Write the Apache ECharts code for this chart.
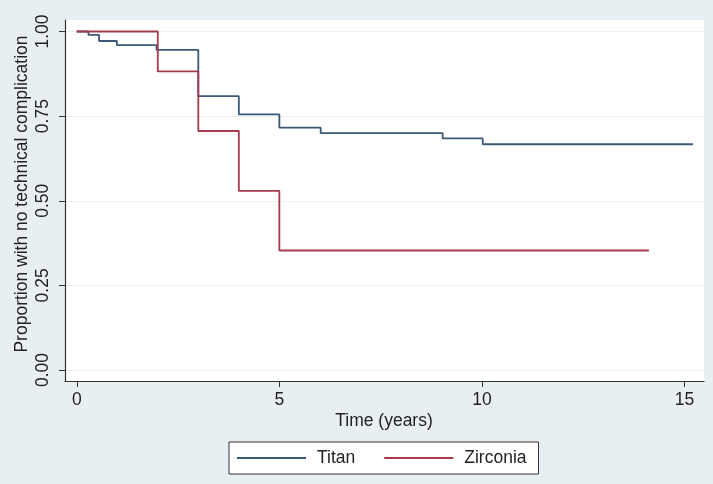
<!DOCTYPE html>
<html>
<head>
<meta charset="utf-8">
<script src="https://cdn.jsdelivr.net/npm/echarts@6/dist/echarts.min.js"></script>
<style>
html,body{margin:0;padding:0;background:#e8eff3;}
#c{width:713px;height:484px;}
</style>
</head>
<body>
<div id="c"></div>
<script>
// Data
const titanTimes = [0, 0.29, 0.55, 0.99, 1.97, 3.0, 4.0, 5.0, 6.02, 9.03, 10.02, 15.21];
const titanValues = [1.0, 0.99, 0.972, 0.96, 0.946, 0.809, 0.755, 0.716, 0.700, 0.684, 0.667, 0.667];
const zircTimes = [0, 2.0, 3.0, 4.0, 5.0, 14.12];
const zircValues = [1.0, 0.882, 0.706, 0.529, 0.353, 0.353];
const xTicks = [0, 5, 10, 15];
const yTicks = [0, 0.25, 0.5, 0.75, 1.0];
const seriesNames = ['Titan', 'Zirconia'];
const xTitle = 'Time (years)';
const yTitle = 'Proportion with no technical complication';

const FONT = '"Liberation Sans", Arial, sans-serif';
const chart = echarts.init(document.getElementById('c'));

const zip = (a, b) => a.map((t, i) => [t, b[i]]);

chart.setOption({
  backgroundColor: '#e8eff3',
  animation: false,
  textStyle: { fontFamily: FONT },
  grid: { left: 65, right: 9, top: 20, bottom: 103, show: true, backgroundColor: '#ffffff', borderWidth: 0 },
  xAxis: {
    type: 'value', min: -0.29, max: 15.48,
    axisLine: { show: true, onZero: false, lineStyle: { color: '#333', width: 1.2 } },
    axisTick: { show: true, length: 6, customValues: xTicks, lineStyle: { color: '#333' } },
    axisLabel: { customValues: xTicks, fontSize: 17.5, color: '#222', margin: 10, fontFamily: FONT },
    splitLine: { show: false }
  },
  yAxis: {
    type: 'value', min: -0.0325, max: 1.034,
    axisLine: { show: true, onZero: false, lineStyle: { color: '#333', width: 1.2 } },
    axisTick: { show: true, length: 6, customValues: yTicks, lineStyle: { color: '#333' } },
    axisLabel: { customValues: yTicks, fontSize: 17.5, color: '#222', margin: 13, rotate: 90, fontFamily: FONT,
      formatter: v => v.toFixed(2) },
    splitLine: { show: false }
  },
  legend: {
    left: 229, top: 442,
    padding: [7, 12, 7, 8],
    backgroundColor: '#ffffff', borderColor: '#333', borderWidth: 1,
    itemWidth: 69, itemHeight: 2, itemGap: 29,
    icon: 'rect',
    textStyle: { fontSize: 17.5, color: '#222', padding: [0, 0, 0, 6], fontFamily: FONT },
    data: seriesNames
  },
  graphic: [
    { type: 'text', x: 22, y: 194, rotation: Math.PI / 2,
      style: { text: yTitle, font: '17.5px ' + FONT, fill: '#222', textAlign: 'center', textVerticalAlign: 'middle' } },
    { type: 'text', x: 384, y: 421,
      style: { text: xTitle, font: '17.5px ' + FONT, fill: '#222', textAlign: 'center', textVerticalAlign: 'middle' } }
  ],
  series: [
    {
      name: 'grid', type: 'line', data: [], silent: true, z: 0,
      markLine: {
        silent: true, symbol: ['none', 'none'], label: { show: false }, z: 0,
        lineStyle: { color: '#edf1f3', width: 1, type: 'solid' },
        data: yTicks.map(v => ({ yAxis: v }))
      }
    },
    {
      name: seriesNames[0], type: 'line', step: 'end', showSymbol: false, symbol: 'none', z: 3,
      data: zip(titanTimes, titanValues),
      lineStyle: { color: '#3b5878', width: 1.8 }, itemStyle: { color: '#3b5878' }
    },
    {
      name: seriesNames[1], type: 'line', step: 'end', showSymbol: false, symbol: 'none', z: 4,
      data: zip(zircTimes, zircValues),
      lineStyle: { color: '#a63a4e', width: 1.8 }, itemStyle: { color: '#a63a4e' }
    }
  ]
});
</script>
</body>
</html>
